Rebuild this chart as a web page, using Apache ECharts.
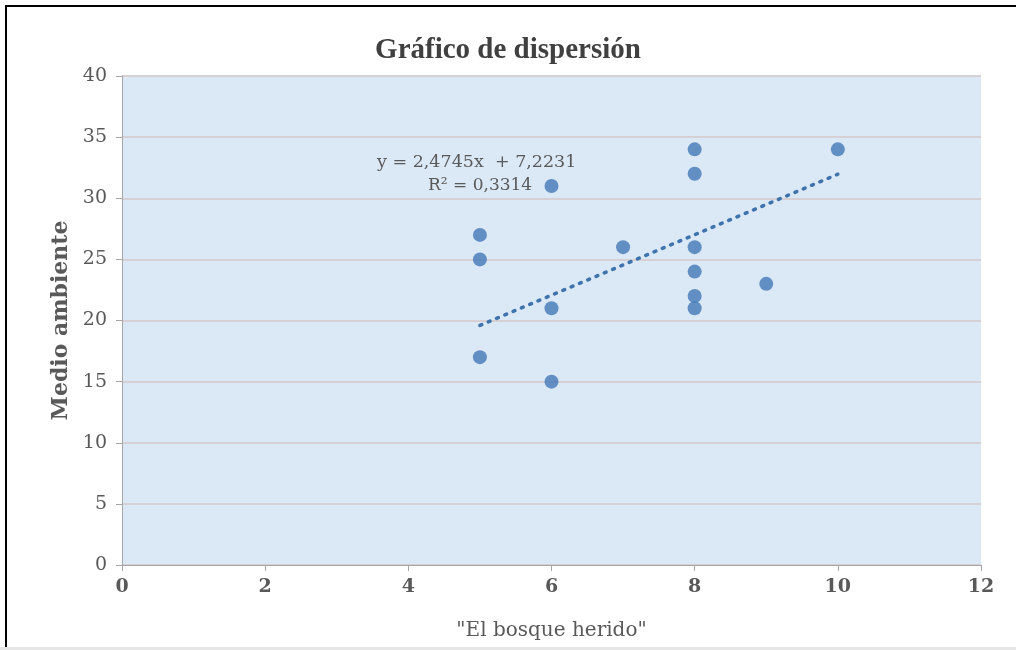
<!DOCTYPE html>
<html>
<head>
<meta charset="utf-8">
<script src="https://cdn.jsdelivr.net/npm/echarts@6/dist/echarts.min.js"></script>
<style>
  html, body { margin: 0; padding: 0; background: #fff; }
  #chart { width: 1016px; height: 650px; }
</style>
</head>
<body>
<div id="chart"></div>
<script>
// "El bosque herido" scores vs. Medio ambiente scores
const xValues = [5, 5, 5, 6, 6, 6, 7, 8, 8, 8, 8, 8, 8, 9, 10]
const yValues = [27, 25, 17, 31, 21, 15, 26, 34, 32, 26, 24, 22, 21, 23, 34]
// trendline as printed on the chart
const trendSlope = 2.4745
const trendIntercept = 7.2231
const trendRange = [5, 10]
const xTicks = [0, 2, 4, 6, 8, 10, 12]
const yTicks = [0, 5, 10, 15, 20, 25, 30, 35, 40]

const points = xValues.map((x, i) => [x, yValues[i]])
const trendPoints = trendRange.map(x => [x, trendSlope * x + trendIntercept])

const chart = echarts.init(document.getElementById('chart'))

const serif = '"Liberation Serif", "DejaVu Serif", serif'
const wideSerif = '"DejaVu Serif", serif'

chart.setOption({
  animation: false,
  backgroundColor: '#fff',
  title: {
    text: 'Gráfico de dispersión',
    left: 'center',
    top: 31,
    textStyle: { fontFamily: serif, fontSize: 29, fontWeight: 'bold', color: '#404040' }
  },
  grid: { left: 122, right: 35, top: 76, bottom: 85, backgroundColor: '#dbe8f5', show: true, borderWidth: 0 },
  xAxis: {
    type: 'value',
    min: xTicks[0],
    max: xTicks[xTicks.length - 1],
    interval: 2,
    name: '"El bosque herido"',
    nameLocation: 'middle',
    nameGap: 56,
    nameTextStyle: { fontFamily: wideSerif, fontSize: 20, color: '#595959' },
    axisLine: { onZero: false, lineStyle: { color: '#a6a6a6', width: 1 } },
    axisTick: { show: true, length: 6, lineStyle: { color: '#a6a6a6' } },
    axisLabel: { fontFamily: wideSerif, fontSize: 19, fontWeight: 'bold', color: '#595959', margin: 13 },
    splitLine: { show: false }
  },
  yAxis: {
    type: 'value',
    min: yTicks[0],
    max: yTicks[yTicks.length - 1],
    interval: 5,
    name: 'Medio ambiente',
    nameLocation: 'middle',
    nameGap: 50,
    nameTextStyle: { fontFamily: wideSerif, fontSize: 22, fontWeight: 'bold', color: '#595959' },
    axisLine: { show: true, lineStyle: { color: '#a6a6a6', width: 1 } },
    axisTick: { show: true, length: 6, lineStyle: { color: '#a6a6a6' } },
    axisLabel: { fontFamily: wideSerif, fontSize: 19, color: '#595959', margin: 15 },
    splitLine: { show: true, lineStyle: { color: '#d6cfd3', width: 2 } }
  },
  series: [
    {
      type: 'line',
      data: trendPoints,
      showSymbol: false,
      lineStyle: { color: '#3f73ad', width: 3.5, type: [2, 7], cap: 'round' },
      z: 2
    },
    {
      type: 'scatter',
      data: points,
      symbol: 'circle',
      symbolSize: 14,
      itemStyle: { color: '#4278b8' },
      z: 3
    }
  ],
  graphic: [
    {
      type: 'rect',
      shape: { x: 6, y: 6, width: 1040, height: 700 },
      style: { fill: 'none', stroke: '#000', lineWidth: 2 },
      silent: true,
      z: 100
    },
    {
      type: 'rect',
      shape: { x: 0, y: 647, width: 1016, height: 3 },
      style: { fill: '#e6e6e6' },
      silent: true,
      z: 101
    },
    {
      type: 'text',
      left: 377,
      top: 153,
      style: { text: 'y = 2,4745x  + 7,2231', fontFamily: wideSerif, fontSize: 17.5, fill: '#595959' }
    },
    {
      type: 'text',
      left: 428,
      top: 177,
      style: { text: 'R² = 0,3314', fontFamily: wideSerif, fontSize: 17, fill: '#595959' }
    }
  ]
})
</script>
</body>
</html>
